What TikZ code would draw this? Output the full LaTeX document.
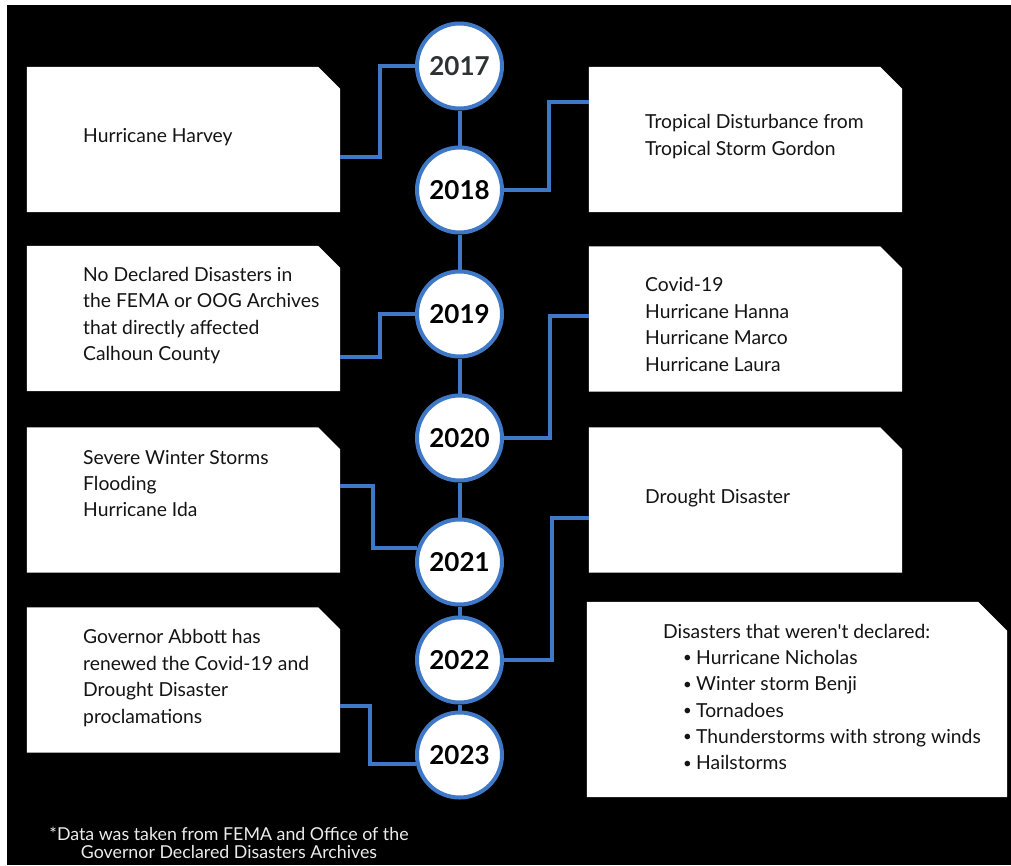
\documentclass[tikz,border=0pt]{standalone}
\usepackage{fontspec}
\newfontfamily\boxfont{Lato}
\newfontfamily\yearfont{Lato}
\usetikzlibrary{calc}
\definecolor{tlblue}{RGB}{64,120,200}
\definecolor{boxtext}{RGB}{20,20,20}
\definecolor{notecol}{RGB}{235,235,235}
\definecolor{firstyear}{RGB}{45,50,52}
\newcommand\cardfill[2]{\fill[white] (#1.south west) -- (#1.north west) -- ([xshift=-#2]#1.north east) -- ([yshift=-#2]#1.north east) -- (#1.south east) -- cycle;}
\newcommand\bul{\makebox[13pt][l]{\raisebox{1.6pt}{\fontsize{15}{15}\selectfont •}}}
\begin{document}
\begin{tikzpicture}[x=1pt,y=-1pt,
  yearnode/.style={circle, draw=tlblue, line width=4pt, fill=white, minimum size=85pt, inner sep=0pt, text=black, font=\yearfont\bfseries\fontsize{26}{30}\selectfont},
  card/.style={rectangle, inner sep=0pt, minimum width=313pt, minimum height=145pt},
  conn/.style={draw=tlblue, line width=4pt},
  txt/.style={anchor=west, align=left, inner sep=0pt, text=boxtext, font=\boxfont\fontsize{19.3}{26.4}\selectfont}]
\useasboundingbox (0,0) rectangle (1011,865);
\fill[white] (0,0) rectangle (1011,865);
\fill[black] (7,5) rectangle (1011,865);

% cards
\node[card] (l1) at (183.5,139.5) {};
\node[card] (r1) at (745.5,139.5) {};
\node[card] (l2) at (183.5,318.5) {};
\node[card] (r2) at (745.5,319) {};
\node[card] (l3) at (183.5,500) {};
\node[card] (r3) at (745.5,500) {};
\node[card] (l4) at (183.5,680) {};
\node[card, minimum width=420pt, minimum height=195pt] (r4) at (797,699.5) {};
\cardfill{l1}{22pt}
\cardfill{r1}{22pt}
\cardfill{l2}{22pt}
\cardfill{r2}{22pt}
\cardfill{l3}{22pt}
\cardfill{r3}{22pt}
\cardfill{l4}{22pt}
\cardfill{r4}{29pt}

% texts
\node[txt] (t1) at (83,137) {Hurricane Harvey};
\node[txt] (t2) at (645,136.5) {Tropical Disturbance from\\Tropical Storm Gordon};
\node[txt] (t3) at (83,315.5) {No Declared Disasters in\\the FEMA or OOG Archives\\that directly affected\\Calhoun County};
\node[txt] (t4) at (645,324.5) {Covid-19\\Hurricane Hanna\\Hurricane Marco\\Hurricane Laura};
\node[txt] (t5) at (83,483.5) {Severe Winter Storms\\Flooding\\Hurricane Ida};
\node[txt] (t6) at (645,498) {Drought Disaster};
\node[txt] (t7) at (83,678) {Governor Abbott has\\renewed the Covid-19 and\\Drought Disaster\\proclamations};
\node[txt] (t8) at (663,631) {Disasters that weren't declared:};
\node[txt] (t9) at (683,710) {\bul Hurricane Nicholas\\\bul Winter storm Benji\\\bul Tornadoes\\\bul Thunderstorms with strong winds\\\bul Hailstorms};
\node[align=center, inner sep=0pt, text=notecol, font=\boxfont\fontsize{17.8}{18}\selectfont] (fn) at (229,843) {*Data was taken from FEMA and Office of the\\Governor Declared Disasters Archives};

% year circles
\node[yearnode, text=firstyear] (c17) at (459.5,66) {2017};
\node[yearnode] (c18) at (459.5,190) {2018};
\node[yearnode] (c19) at (459.5,314) {2019};
\node[yearnode] (c20) at (459.5,438) {2020};
\node[yearnode] (c21) at (459.5,562) {2021};
\node[yearnode] (c22) at (459.5,660) {2022};
\node[yearnode] (c23) at (459.5,755) {2023};

% spine
\draw[conn] (c17) -- (c18);
\draw[conn] (c18) -- (c19);
\draw[conn] (c19) -- (c20);
\draw[conn] (c20) -- (c21);
\draw[conn] (c21) -- (c22);
\draw[conn] (c22) -- (c23);

% connectors
\draw[conn] ([yshift=-17.5pt]l1.east) -| ([xshift=-35pt]c17.west) -- (c17.west);
\draw[conn] (c18.east) -| ([xshift=-40pt,yshift=37.5pt]r1.west) -- ([yshift=37.5pt]r1.west);
\draw[conn] ([yshift=-38.5pt]l2.east) -| ([xshift=-35pt]c19.west) -- (c19.west);
\draw[conn] (c20.east) -| ([xshift=-39pt,yshift=3pt]r2.west) -- ([yshift=3pt]r2.west);
\draw[conn] ([yshift=14pt]l3.east) -| ([xshift=-44pt]c21.162) -- (c21.162);
\draw[conn] (c22.east) -| ([xshift=-37pt,yshift=-18pt]r3.west) -- ([yshift=-18pt]r3.west);
\draw[conn] ([yshift=-26pt]l4.east) -| ([xshift=-46pt]c23.192) -- (c23.192);
\end{tikzpicture}
\end{document}
